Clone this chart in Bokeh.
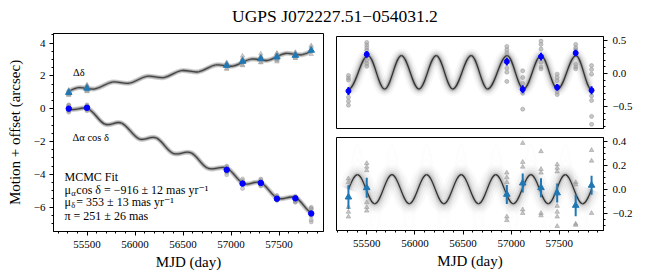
import numpy as np
from bokeh.plotting import figure
from bokeh.models import Label, FixedTicker, ColumnDataSource, Range1d
from bokeh.layouts import column, row
from bokeh.embed import file_html
from bokeh.resources import INLINE

# ---------------- data ----------------
title_text = "UGPS J072227.51\u2212054031.2"
epochs = [55310, 55500, 56955, 57120, 57310, 57478, 57670, 57835]

# left panel: motion + offset (arcsec)
ra_left = [0.0, 0.05, -3.73, -4.57, -4.53, -5.49, -5.47, -6.39]
dec_left = [0.98, 1.24, 2.63, 2.88, 3.04, 3.14, 3.24, 3.55]

# right panels: parallax residuals (arcsec)
ra_res = [-0.265, 0.29, 0.18, -0.24, 0.255, -0.21, 0.31, -0.255]
ra_err = [0.06, 0.05, 0.06, 0.06, 0.06, 0.05, 0.05, 0.06]
dec_res = [-0.065, 0.014, -0.042, 0.053, 0.014, -0.03, -0.135, 0.034]
dec_err = [0.10, 0.085, 0.08, 0.08, 0.08, 0.08, 0.09, 0.08]

# individual frame measurements (grey)
ra_scatter = [
    [-0.03, -0.07, -0.10, -0.36, -0.42, -0.48],
    [0.47, 0.43, 0.39, 0.35, 0.20, 0.15, 0.11],
    [0.41, 0.36, 0.31, 0.08, 0.02, -0.12],
    [0.04, -0.06, -0.15, -0.30, -0.54],
    [0.49, 0.44, 0.37, 0.17, 0.10, 0.07],
    [-0.01, -0.06, -0.11, -0.28, -0.32],
    [0.44, 0.39, 0.36, 0.14, 0.10, 0.07],
    [0.12, 0.06, -0.01, -0.34, -0.41, -0.65, -0.77],
]
dec_scatter = [
    [0.09, 0.06, -0.15, -0.19, -0.23],
    [0.22, 0.19, 0.16, -0.11, -0.15, -0.18],
    [0.14, 0.10, 0.06, -0.23, -0.26],
    [0.39, 0.23, 0.19, -0.17, -0.20],
    [0.32, 0.17, 0.14, -0.20, -0.22],
    [0.21, 0.18, 0.15, -0.14, -0.19, -0.23, -0.31],
    [0.06, 0.04, -0.29, -0.30],
    [0.33, 0.24, -0.20],
]

# parallax model: turning points (MJD, arcsec)
ra_knot_t = [55310, 55513, 55686, 55860, 56042, 56222, 56394, 56585,
             56756, 56958, 57129, 57310, 57482, 57673, 57835]
ra_knot_v = [-0.24, 0.27, -0.235, 0.27, -0.235, 0.27, -0.235, 0.27,
             -0.235, 0.27, -0.235, 0.27, -0.235, 0.27, -0.245]
dec_knot_t = [55310, 55404, 55583, 55762, 55942, 56122, 56301, 56481,
              56661, 56840, 57022, 57205, 57385, 57562, 57742, 57835]
dec_knot_v = [0.0, 0.124, -0.121, 0.124, -0.121, 0.124, -0.121, 0.124,
              -0.121, 0.124, -0.121, 0.124, -0.121, 0.124, -0.121, 0.0]
dec_sample_scale = [1.4, 2.0, 3.0]

# fit results
pm_ra = -916     # mas/yr
pm_dec = 353     # mas/yr
ra_offset = 0.23
dec_offset = 1.06
t_ref = 55310

x_ticks = [55500, 56000, 56500, 57000, 57500]
left_y_ticks = [-6, -4, -2, 0, 2, 4]
ra_ticks = [-0.5, 0.0, 0.5]
dec_ticks = [-0.2, 0.0, 0.2, 0.4]

FONT = "Liberation Serif, DejaVu Serif, serif"
BLUE = "#0000ff"
TBLUE = "#1f77b4"


def bez(t, v):
    t = np.asarray(t, float)
    v = np.asarray(v, float)
    amp = np.max(np.abs(v))
    ext = [True] * len(t)
    ext[0] = abs(v[0]) > 0.7 * amp
    ext[-1] = abs(v[-1]) > 0.7 * amp
    d = {k: [] for k in ["x0", "y0", "x1", "y1", "cx0", "cy0", "cx1", "cy1"]}
    for i in range(len(t) - 1):
        a, b, ya, yb = t[i], t[i + 1], v[i], v[i + 1]
        dx, dy = b - a, yb - ya
        if ext[i] and ext[i + 1]:
            c0 = (a + 0.3642 * dx, ya); c1 = (b - 0.3642 * dx, yb)
        elif ext[i + 1]:
            c0 = (a + 0.326 * dx, ya + 0.512 * dy); c1 = (a + 0.638 * dx, yb)
        elif ext[i]:
            c0 = (a + 0.362 * dx, ya); c1 = (a + 0.674 * dx, yb - 0.512 * dy)
        else:
            c0 = (a + dx / 3, ya + dy / 3); c1 = (a + 2 * dx / 3, ya + 2 * dy / 3)
        d["x0"].append(a); d["y0"].append(ya); d["x1"].append(b); d["y1"].append(yb)
        d["cx0"].append(c0[0]); d["cy0"].append(c0[1]); d["cx1"].append(c1[0]); d["cy1"].append(c1[1])
    return {k: np.array(val) for k, val in d.items()}


def shear(seg, mu, off):
    out = dict(seg)
    for xk, yk in [("x0", "y0"), ("x1", "y1"), ("cx0", "cy0"), ("cx1", "cy1")]:
        out[yk] = seg[yk] + off + mu * (seg[xk] - t_ref)
    return out


def scaled(seg, s):
    out = dict(seg)
    for yk in ["y0", "y1", "cy0", "cy1"]:
        out[yk] = seg[yk] * s
    return out


def style(p):
    p.toolbar_location = None
    p.grid.visible = False
    p.outline_line_color = "black"
    p.outline_line_width = 1
    p.background_fill_color = "white"
    p.border_fill_color = "white"
    for ax in p.axis:
        ax.axis_line_color = "black"
        ax.major_tick_in = 0
        ax.major_tick_out = 4
        ax.minor_tick_in = 0
        ax.minor_tick_out = 2
        ax.major_label_text_font = FONT
        ax.major_label_text_font_size = "11px"
        ax.major_label_text_color = "black"
        ax.axis_label_text_font = FONT
        ax.axis_label_text_font_size = "15px"
        ax.axis_label_text_font_style = "normal"
        ax.axis_label_text_color = "black"


def fmt(ticks, nd):
    out = {}
    for t in ticks:
        s = f"{abs(t):.{nd}f}"
        out[t] = ("\u2212" + s) if t < 0 else s
    return out


ra_seg = bez(ra_knot_t, ra_knot_v)
dec_seg = bez(dec_knot_t, dec_knot_v)
mu_ra = pm_ra / 1000.0 / 365.25
mu_dec = pm_dec / 1000.0 / 365.25

# ---------------- title ----------------
pt = figure(width=668, height=28, x_range=(0, 1), y_range=(0, 1),
            toolbar_location=None, output_backend="svg", min_border=0,
            x_axis_location=None, y_axis_location=None, outline_line_color=None)
pt.grid.visible = False
pt.add_layout(Label(x=0.5007, y=0.46, text=title_text, text_align="center",
                    text_baseline="middle", text_font=FONT, text_font_size="17.5px",
                    text_color="black"))

# ---------------- left panel ----------------
pl = figure(width=328, height=252, x_range=Range1d(55151, 57963), y_range=Range1d(-7.49, 4.58),
            toolbar_location=None, output_backend="svg",
            min_border_left=53, min_border_right=5, min_border_top=5, min_border_bottom=49)
style(pl)
pl.xaxis.ticker = FixedTicker(ticks=x_ticks, minor_ticks=list(range(55200, 58000, 100)))
pl.yaxis.ticker = FixedTicker(ticks=left_y_ticks, minor_ticks=[i * 0.5 for i in range(-15, 10)])
pl.yaxis.major_label_overrides = fmt(left_y_ticks, 0)
pl.xaxis.axis_label = "MJD (day)"
pl.yaxis.axis_label = "Motion + offset (arcsec)"
pl.xaxis.major_label_standoff = 5
pl.xaxis.axis_label_standoff = 3
pl.yaxis.major_label_standoff = 4
pl.yaxis.axis_label_standoff = 8

for seg_l in [shear(ra_seg, mu_ra, ra_offset), shear(dec_seg, mu_dec, dec_offset)]:
    src = ColumnDataSource(seg_l)
    pl.bezier(source=src, line_color="#999999", line_width=5, line_alpha=0.45)
    pl.bezier(source=src, line_color="#888888", line_width=3, line_alpha=0.6)
    pl.bezier(source=src, line_color="#444444", line_width=1.3)

gx, gra, gdec = [], [], []
for i, t in enumerate(epochs):
    for g in ra_scatter[i]:
        gx.append(t); gra.append(ra_left[i] + (g - ra_res[i]))
gx2 = []
for i, t in enumerate(epochs):
    for g in dec_scatter[i]:
        gx2.append(t); gdec.append(dec_left[i] + (g - dec_res[i]))
pl.scatter(gx, gra, marker="circle", size=4, color="#999999", alpha=0.45)
pl.scatter(gx2, gdec, marker="triangle", size=4.5, color="#999999", alpha=0.45)
pl.scatter(epochs, ra_left, marker="circle", size=5.5, color=BLUE)
pl.scatter(epochs, dec_left, marker="triangle", size=6.5, color=TBLUE)

txt = dict(x_units="screen", y_units="screen", text_font=FONT, text_color="black",
           text_baseline="middle")
pl.add_layout(Label(x=19.4, y=159.3, text="\u0394\u03b4", text_font_size="10.5px", **txt))
pl.add_layout(Label(x=19.0, y=94.3, text="\u0394\u03b1 cos \u03b4", text_font_size="10.5px", **txt))
pl.add_layout(Label(x=11, y=54.3, text="MCMC Fit", text_font_size="12px", **txt))
pl.add_layout(Label(x=11, y=41.7, text="\u03bc", text_font_size="12px", **txt))
pl.add_layout(Label(x=17.8, y=38.5, text="\u03b1", text_font_size="8.5px", **txt))
pl.add_layout(Label(x=22.8, y=41.7, text=f" cos \u03b4 = \u2212{abs(pm_ra)} \u00b1 12 mas yr\u207b\u00b9",
                    text_font_size="12px", **txt))
pl.add_layout(Label(x=11, y=29.3, text="\u03bc", text_font_size="12px", **txt))
pl.add_layout(Label(x=17.8, y=26.1, text="\u03b4", text_font_size="8.5px", **txt))
pl.add_layout(Label(x=22.8, y=29.3, text=f" = {pm_dec} \u00b1 13 mas yr\u207b\u00b9",
                    text_font_size="12px", **txt))
pl.add_layout(Label(x=11, y=16, text="\u03c0 = 251 \u00b1 26 mas", text_font_size="12px", **txt))

# ---------------- right top: delta alpha ----------------
prt = figure(width=340, height=104, x_range=Range1d(55186, 57959), y_range=Range1d(-0.833, 0.56),
             toolbar_location=None, output_backend="svg", x_axis_location=None,
             y_axis_location="right",
             min_border_left=8, min_border_right=65, min_border_top=8, min_border_bottom=4)
style(prt)
prt.yaxis.ticker = FixedTicker(ticks=ra_ticks, minor_ticks=[i * 0.1 for i in range(-8, 6)])
prt.yaxis.major_label_overrides = fmt(ra_ticks, 1)
prt.yaxis.major_label_standoff = 5
src = ColumnDataSource(ra_seg)
for w, a in [(14, 0.05), (10, 0.08), (7, 0.12), (4.5, 0.18), (3, 0.25)]:
    prt.bezier(source=src, line_color="#666666", line_width=w, line_alpha=a)
prt.bezier(source=src, line_color="#333333", line_width=1.3)
sx, sy = [], []
for i, t in enumerate(epochs):
    for g in ra_scatter[i]:
        sx.append(t); sy.append(g)
prt.scatter(sx, sy, marker="circle", size=4, color="#999999", alpha=0.55)
prt.segment(x0=epochs, y0=[r - e for r, e in zip(ra_res, ra_err)], x1=epochs,
            y1=[r + e for r, e in zip(ra_res, ra_err)], line_color=BLUE, line_width=2)
prt.scatter(epochs, ra_res, marker="circle", size=5, color=BLUE)
prt.add_layout(Label(x=315.5, y=46, text="\u0394\u03b1 (arcsec)", angle=np.pi / 2,
                     text_align="center", text_font_size="15px", **txt))

# ---------------- right bottom: delta delta ----------------
prb = figure(width=340, height=148, x_range=Range1d(55186, 57959), y_range=Range1d(-0.346, 0.437),
             toolbar_location=None, output_backend="svg", y_axis_location="right",
             min_border_left=8, min_border_right=65, min_border_top=5, min_border_bottom=50)
style(prb)
prb.xaxis.ticker = FixedTicker(ticks=x_ticks, minor_ticks=list(range(55200, 58000, 100)))
prb.yaxis.ticker = FixedTicker(ticks=dec_ticks, minor_ticks=[i * 0.05 for i in range(-7, 9)])
prb.yaxis.major_label_overrides = fmt(dec_ticks, 1)
prb.xaxis.axis_label = "MJD (day)"
prb.xaxis.major_label_standoff = 5
prb.xaxis.axis_label_standoff = 3
prb.yaxis.major_label_standoff = 5
for s in dec_sample_scale:
    prb.bezier(source=ColumnDataSource(scaled(dec_seg, s)), line_color="#999999",
               line_width=3, line_alpha=0.025)
src = ColumnDataSource(dec_seg)
for w, a in [(20, 0.035), (15, 0.05), (10, 0.08), (6, 0.12), (3.5, 0.18)]:
    prb.bezier(source=src, line_color="#666666", line_width=w, line_alpha=a)
prb.bezier(source=src, line_color="#333333", line_width=1.2)
sx, sy = [], []
for i, t in enumerate(epochs):
    for g in dec_scatter[i]:
        sx.append(t); sy.append(g)
prb.scatter(sx, sy, marker="triangle", size=4.5, color="#999999", alpha=0.55)
prb.segment(x0=epochs, y0=[r - e for r, e in zip(dec_res, dec_err)], x1=epochs,
            y1=[r + e for r, e in zip(dec_res, dec_err)], line_color=TBLUE, line_width=2)
prb.scatter(epochs, dec_res, marker="triangle", size=6.5, color=TBLUE)
prb.add_layout(Label(x=315.5, y=46.5, text="\u0394\u03b4 (arcsec)", angle=np.pi / 2,
                     text_align="center", text_font_size="15px", **txt))

layout = column(pt, row(pl, column(prt, prb)))
open("out.html", "w").write(file_html(layout, INLINE))
